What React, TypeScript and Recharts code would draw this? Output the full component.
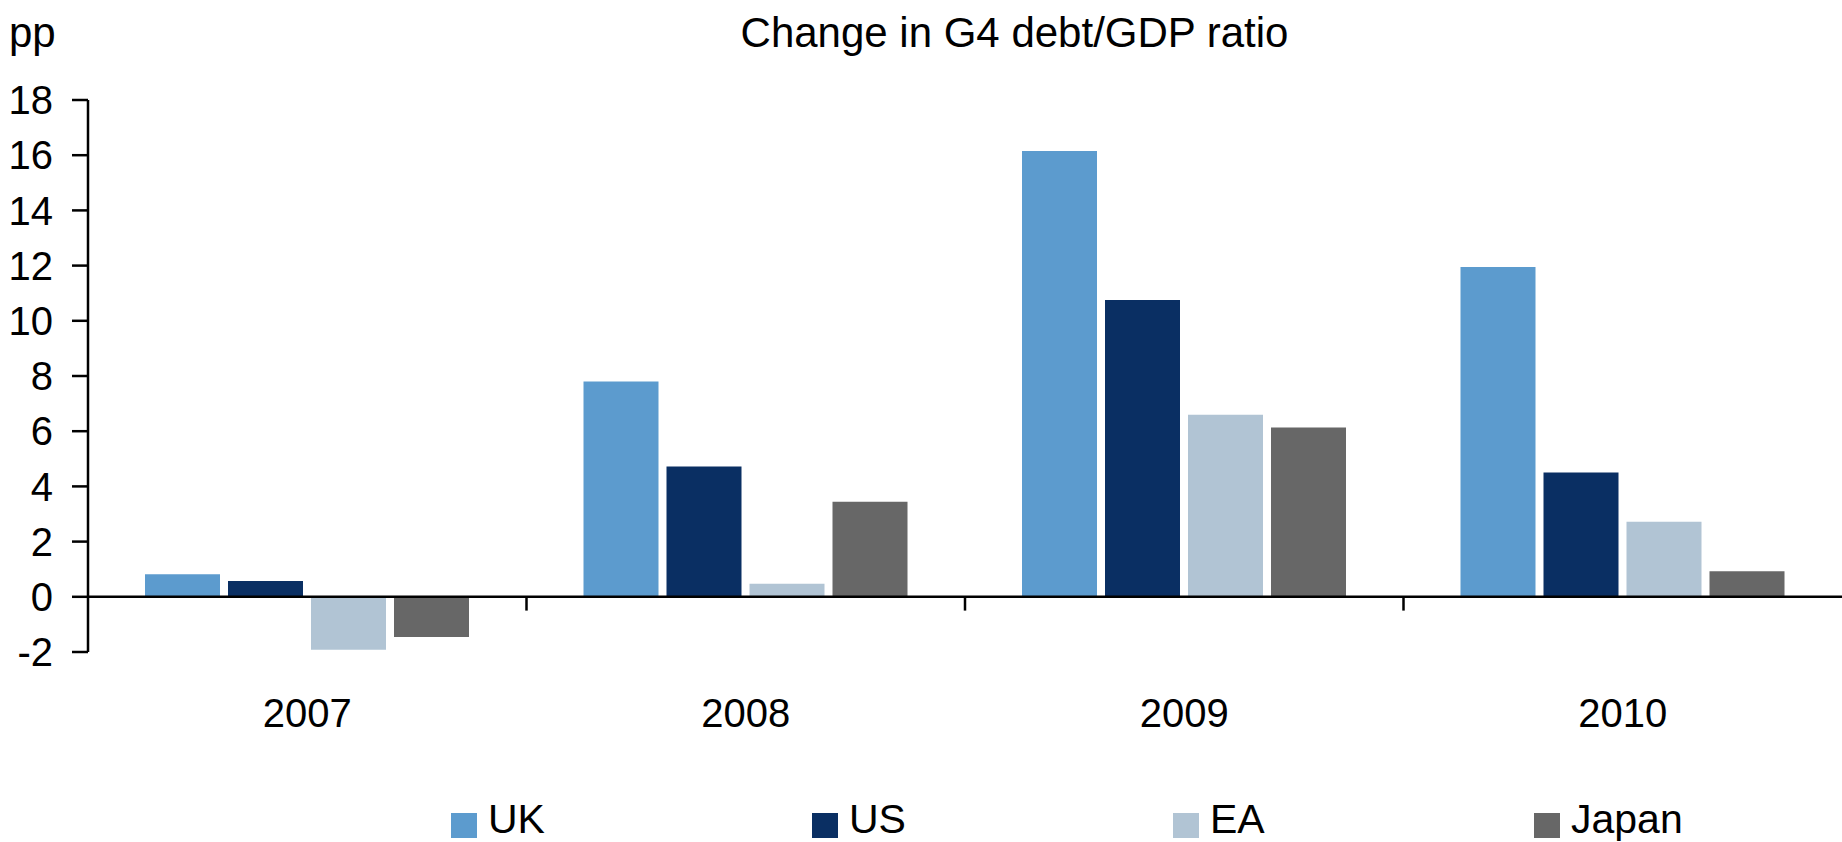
import React from 'react';
import { BarChart, Bar, XAxis, YAxis, ReferenceLine, ReferenceArea, Legend } from 'recharts';

const years = ['2007', '2008', '2009', '2010'];
const ukValues = [0.82, 7.8, 16.15, 11.95];
const usValues = [0.57, 4.72, 10.75, 4.5];
const eaValues = [-1.92, 0.47, 6.6, 2.72];
const japanValues = [-1.46, 3.44, 6.13, 0.93];
const yTicks = [-2, 0, 2, 4, 6, 8, 10, 12, 14, 16, 18];
const seriesNames = ['UK', 'US', 'EA', 'Japan'];
const seriesKeys = ['uk', 'us', 'ea', 'japan'];
const seriesColors = ['#5C9BCE', '#0A2F63', '#B1C4D4', '#676767'];
const titleText = 'Change in G4 debt/GDP ratio';
const unitText = 'pp';

const data = years.map((y, i) => ({
  year: y,
  uk: ukValues[i],
  us: usValues[i],
  ea: eaValues[i],
  japan: japanValues[i],
}));

const FONT = '"Liberation Sans", Arial, sans-serif';
const W = 1842;
const H = 842;

const LegendContent = () => (
  <div style={{ position: 'relative', width: W, height: 44, fontFamily: FONT }}>
    {seriesNames.map((name, i) => (
      <div key={name} style={{ position: 'absolute', left: 451 + i * 361, top: 0, height: 44 }}>
        <div style={{ position: 'absolute', left: 0, top: 15, width: 26, height: 25, background: seriesColors[i] }} />
        <div style={{ position: 'absolute', left: 37, top: 1, fontSize: 41, lineHeight: '41px', color: '#000', whiteSpace: 'nowrap' }}>{name}</div>
      </div>
    ))}
  </div>
);

const BoundaryTick = (props: any) => {
  const { x, y, height } = props;
  if (x == null || y == null) return null;
  return <line x1={x} y1={y} x2={x} y2={y + height} stroke="#000" strokeWidth={2.5} />;
};

export default function App() {
  return (
    <div style={{ position: 'absolute', left: 0, top: 0, width: W, height: H, background: '#fff', fontFamily: FONT }}>
      <div style={{ position: 'absolute', left: 9, top: 11.5, fontSize: 42, lineHeight: '42px', color: '#000' }}>{unitText}</div>
      <div style={{ position: 'absolute', left: 0, width: W, paddingLeft: 187, boxSizing: 'border-box', textAlign: 'center', top: 11.5, fontSize: 42, lineHeight: '42px', color: '#000', whiteSpace: 'nowrap' }}>{titleText}</div>
      <BarChart
        width={W}
        height={H}
        data={data}
        margin={{ top: 100, right: 0, left: 0, bottom: 0 }}
        barCategoryGap={57}
        barGap={8}
      >
        <XAxis
          dataKey="year"
          axisLine={false}
          tickLine={false}
          tickSize={0}
          tickMargin={47}
          height={146}
          tick={{ fill: '#000', fontSize: 40, fontFamily: FONT }}
        />
        <YAxis
          domain={[-2, 18]}
          ticks={yTicks}
          interval={0}
          width={88}
          axisLine={{ stroke: '#000', strokeWidth: 2.5 }}
          tickLine={{ stroke: '#000', strokeWidth: 2.5 }}
          tickSize={16}
          tickMargin={19}
          tick={{ fill: '#000', fontSize: 40, fontFamily: FONT }}
        />
        <Legend
          verticalAlign="bottom"
          content={<LegendContent />}
          wrapperStyle={{ left: 0, width: W, height: 44 }}
        />
        {seriesKeys.map((k, i) => (
          <Bar key={k} dataKey={k} name={seriesNames[i]} fill={seriesColors[i]} isAnimationActive={false} />
        ))}
        <ReferenceLine y={0} stroke="#000" strokeWidth={2.5} />
        {years.slice(1).map((y) => (
          <ReferenceArea
            key={'t' + y}
            x1={y}
            x2={y}
            y1={0}
            y2={-0.5}
            shape={<BoundaryTick />}
          />
        ))}
      </BarChart>
    </div>
  );
}
